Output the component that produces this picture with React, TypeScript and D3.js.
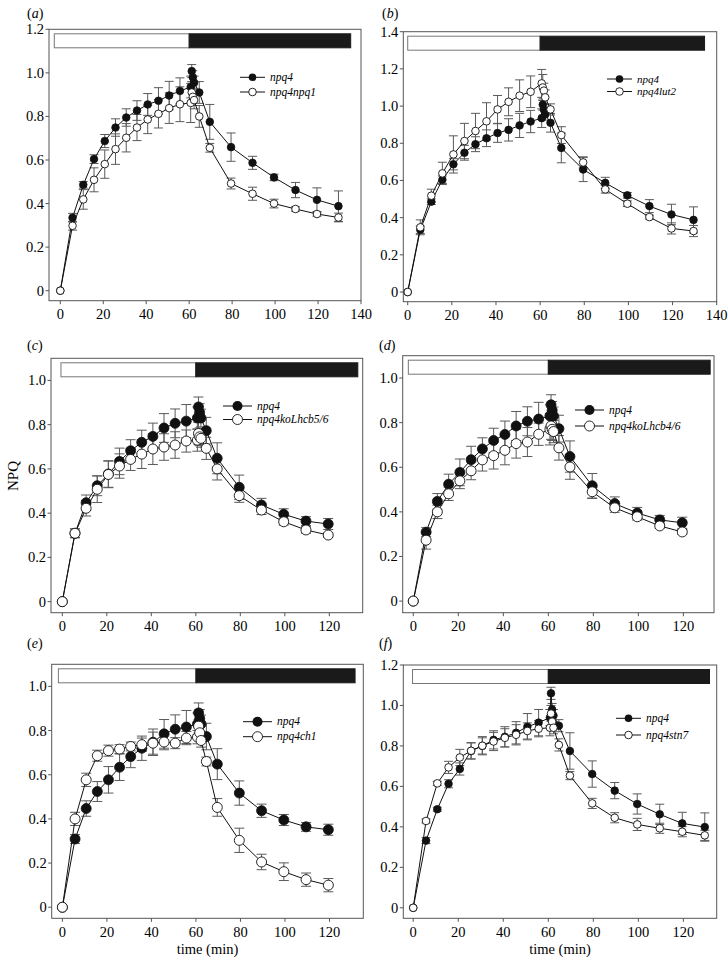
import React from 'react';
import * as d3 from 'd3';

const T130 = [0, 5.7, 10.7, 15.7, 20.7, 25.7, 30.7, 35.7, 40.7, 45.7, 50.7, 55.7, 60.7, 61.2, 61.7, 62.3, 64.7, 69.6, 79.5, 89.5, 99.5, 109.5, 119.5, 129.5];
const T120 = [0, 5.7, 10.7, 15.7, 20.7, 25.7, 30.7, 35.7, 40.7, 45.7, 50.7, 55.7, 60.7, 61.2, 61.7, 62.3, 64.7, 69.6, 79.5, 89.5, 99.5, 109.5, 119.5];

// npq4 used in (a) and (b)
const npq4A = [0, 0.335, 0.486, 0.604, 0.687, 0.749, 0.795, 0.827, 0.855, 0.872, 0.896, 0.917, 0.935, 1.008, 0.98, 0.955, 0.91, 0.775, 0.659, 0.587, 0.52, 0.462, 0.417, 0.388];
const npq4AErr = [0, 0.02, 0.015, 0.02, 0.03, 0.04, 0.04, 0.045, 0.05, 0.06, 0.065, 0.06, 0.05, 0.03, 0.03, 0.03, 0.05, 0.08, 0.065, 0.03, 0.015, 0.035, 0.055, 0.07];
const npq1 = [0, 0.298, 0.419, 0.509, 0.581, 0.65, 0.702, 0.749, 0.786, 0.812, 0.838, 0.856, 0.862, 0.91, 0.89, 0.875, 0.8, 0.656, 0.492, 0.445, 0.4, 0.375, 0.352, 0.336];
const npq1Err = [0, 0.02, 0.045, 0.055, 0.065, 0.07, 0.065, 0.06, 0.065, 0.065, 0.07, 0.08, 0.09, 0.05, 0.04, 0.04, 0.05, 0.02, 0.025, 0.03, 0.02, 0.01, 0.01, 0.02];
const lut2 = [0, 0.348, 0.518, 0.638, 0.74, 0.812, 0.866, 0.918, 0.982, 1.023, 1.056, 1.077, 1.122, 1.1, 1.083, 1.047, 0.982, 0.844, 0.697, 0.552, 0.475, 0.403, 0.342, 0.328];
const lut2Err = [0, 0.04, 0.035, 0.06, 0.1, 0.095, 0.095, 0.1, 0.075, 0.075, 0.085, 0.085, 0.075, 0.07, 0.04, 0.04, 0.03, 0.045, 0.03, 0.02, 0.015, 0.01, 0.03, 0.03];

// npq4 used in (c), (d) and (e)
const npq4C = [0, 0.309, 0.447, 0.524, 0.577, 0.634, 0.682, 0.72, 0.747, 0.785, 0.806, 0.816, 0.83, 0.88, 0.855, 0.83, 0.773, 0.648, 0.517, 0.437, 0.395, 0.364, 0.351];
const npq4CErr = [0, 0.02, 0.035, 0.045, 0.06, 0.06, 0.05, 0.055, 0.06, 0.065, 0.065, 0.075, 0.05, 0.045, 0.04, 0.04, 0.06, 0.07, 0.055, 0.03, 0.025, 0.02, 0.025];
const lhcb56 = [0, 0.309, 0.422, 0.508, 0.575, 0.613, 0.643, 0.667, 0.69, 0.699, 0.708, 0.726, 0.73, 0.76, 0.745, 0.738, 0.693, 0.6, 0.479, 0.414, 0.361, 0.324, 0.301];
const lhcb56Err = [0, 0.02, 0.035, 0.06, 0.06, 0.055, 0.05, 0.065, 0.07, 0.06, 0.06, 0.05, 0.05, 0.05, 0.04, 0.04, 0.05, 0.05, 0.03, 0.02, 0.015, 0.015, 0.01];
const lhcb46 = [0, 0.273, 0.4, 0.481, 0.539, 0.584, 0.633, 0.652, 0.676, 0.706, 0.713, 0.748, 0.77, 0.785, 0.77, 0.76, 0.687, 0.601, 0.49, 0.418, 0.378, 0.337, 0.31];
const lhcb46Err = [0, 0.04, 0.03, 0.03, 0.035, 0.04, 0.05, 0.06, 0.065, 0.065, 0.065, 0.05, 0.07, 0.06, 0.05, 0.05, 0.055, 0.055, 0.03, 0.02, 0.015, 0.01, 0.01];
const ch1 = [0, 0.4, 0.577, 0.686, 0.709, 0.716, 0.728, 0.736, 0.743, 0.748, 0.743, 0.766, 0.77, 0.82, 0.79, 0.755, 0.66, 0.452, 0.303, 0.205, 0.161, 0.125, 0.1];
const ch1Err = [0, 0.03, 0.03, 0.025, 0.025, 0.02, 0.02, 0.03, 0.05, 0.035, 0.025, 0.03, 0.03, 0.03, 0.03, 0.03, 0.02, 0.04, 0.055, 0.035, 0.04, 0.03, 0.03];

// npq4 used in (f)
const npq4F = [0, 0.332, 0.487, 0.613, 0.686, 0.775, 0.8, 0.83, 0.845, 0.865, 0.895, 0.915, 0.94, 1.06, 0.98, 0.95, 0.9, 0.775, 0.661, 0.579, 0.513, 0.462, 0.417, 0.399];
const npq4FErr = [0, 0.015, 0.01, 0.02, 0.03, 0.04, 0.04, 0.045, 0.05, 0.055, 0.065, 0.065, 0.04, 0.03, 0.03, 0.03, 0.03, 0.09, 0.065, 0.04, 0.05, 0.05, 0.055, 0.07];
const stn7 = [0, 0.429, 0.615, 0.694, 0.743, 0.776, 0.801, 0.822, 0.84, 0.855, 0.874, 0.885, 0.89, 0.96, 0.92, 0.89, 0.805, 0.653, 0.516, 0.445, 0.412, 0.393, 0.376, 0.358];
const stn7Err = [0, 0.01, 0.01, 0.03, 0.04, 0.04, 0.045, 0.045, 0.045, 0.05, 0.04, 0.04, 0.04, 0.04, 0.03, 0.03, 0.03, 0.02, 0.025, 0.025, 0.03, 0.025, 0.025, 0.025];

const xTicks140 = [0, 20, 40, 60, 80, 100, 120, 140];
const xTicks120 = [0, 20, 40, 60, 80, 100, 120];
const yTicks10 = [0, 0.2, 0.4, 0.6, 0.8, 1.0];
const yTicks12 = [0, 0.2, 0.4, 0.6, 0.8, 1.0, 1.2];
const yTicks14 = [0, 0.2, 0.4, 0.6, 0.8, 1.0, 1.2, 1.4];

const FONT = '"Liberation Serif", "DejaVu Serif", serif';
const AXIS = '#555';

const panels = [
  { id: 'a', lab: [27, 18], frame: [49, 361, 29.3, 300.7], xd: [-5.26, 140], yd: [-0.046, 1.2], xt: xTicks140, yt: yTicks12,
    t: T130, f: npq4A, fe: npq4AErr, o: npq1, oe: npq1Err, name: 'npq4npq1', leg: [240, 77.3, 14.7], r: 3.8, fs: 11.5, bar: [-2.8, 135.2] },
  { id: 'b', lab: [382, 18], frame: [403.3, 716.7, 31.7, 301.7], xd: [-2, 140], yd: [-0.052, 1.4], xt: xTicks140, yt: yTicks14,
    t: T130, f: npq4A, fe: npq4AErr, o: lut2, oe: lut2Err, name: 'npq4lut2', leg: [607, 79, 12.5], r: 3.8, fs: 11, bar: [0, 134.5] },
  { id: 'c', lab: [27, 350], frame: [51, 362.7, 358.3, 612.7], xd: [-5.08, 135], yd: [-0.05, 1.1], xt: xTicks120, yt: yTicks10,
    t: T120, f: npq4C, fe: npq4CErr, o: lhcb56, oe: lhcb56Err, name: 'npq4koLhcb5/6', leg: [223, 406, 13.5], r: 5, fs: 11.5, bar: [-0.6, 132.8] },
  { id: 'd', lab: [379, 350], frame: [402.7, 714, 355.7, 612.7], xd: [-4.7, 133.6], yd: [-0.052, 1.1], xt: xTicks120, yt: yTicks10,
    t: T120, f: npq4C, fe: npq4CErr, o: lhcb46, oe: lhcb46Err, name: 'npq4koLhcb4/6', leg: [575, 410, 16], r: 5, fs: 11.5, bar: [-2.2, 131.9] },
  { id: 'e', lab: [27, 648], frame: [51.7, 363.3, 664.3, 918.3], xd: [-4.8, 135.2], yd: [-0.05, 1.1], xt: xTicks120, yt: yTicks10,
    t: T120, f: npq4C, fe: npq4CErr, o: ch1, oe: ch1Err, name: 'npq4ch1', leg: [243, 721.7, 15], r: 5, fs: 11.5, bar: [-1.8, 131.5] },
  { id: 'f', lab: [379, 648], frame: [403.3, 716.7, 665, 918.3], xd: [-4.4, 134.8], yd: [-0.052, 1.2], xt: xTicks120, yt: yTicks12,
    t: T130, f: npq4F, fe: npq4FErr, o: stn7, oe: stn7Err, name: 'npq4stn7', leg: [616, 718.3, 16.7], r: 3.8, fs: 11.5, bar: [-0.3, 131.6] },
];

const LIGHT_END = 60;

function Panel({ p }: { p: any }) {
  const [l, r, t, b] = p.frame;
  const x = d3.scaleLinear().domain(p.xd).range([l, r]);
  const y = d3.scaleLinear().domain(p.yd).range([b, t]);
  const line = d3.line<number>().x((_, i) => x(p.t[i])).y((d) => y(d));
  const cap = p.r > 4 ? 5 : 4.5;

  const errBars = (vals: number[], errs: number[], key: string) =>
    vals.map((v, i) => {
      const e = errs[i];
      if (!e) return null;
      const cx = x(p.t[i]);
      return (
        <g key={key + i} stroke="#5a5a5a" strokeWidth={1}>
          <line x1={cx} x2={cx} y1={y(v - e)} y2={y(v + e)} />
          <line x1={cx - cap} x2={cx + cap} y1={y(v - e)} y2={y(v - e)} />
          <line x1={cx - cap} x2={cx + cap} y1={y(v + e)} y2={y(v + e)} />
        </g>
      );
    });

  const [lx, ly, dy] = p.leg;
  const lw = p.r > 4 ? 29 : 25;

  return (
    <g>
      <text x={p.lab[0]} y={p.lab[1]} fontSize={14} fontFamily={FONT}>
        (<tspan fontStyle="italic">{p.id}</tspan>)
      </text>
      <rect x={l} y={t} width={r - l} height={b - t} fill="none" stroke={AXIS} strokeWidth={1} />
      {p.xt.map((v: number) => (
        <g key={'x' + v}>
          <line x1={x(v)} x2={x(v)} y1={b} y2={b + 3.5} stroke={AXIS} />
          <text x={x(v)} y={b + 18.5} textAnchor="middle" fontSize={14.5} fontFamily={FONT}>{v}</text>
        </g>
      ))}
      {p.yt.map((v: number) => (
        <g key={'y' + v}>
          <line x1={l - 3.5} x2={l} y1={y(v)} y2={y(v)} stroke={AXIS} />
          <text x={l - 5} y={y(v) + 5} textAnchor="end" fontSize={14.5} fontFamily={FONT}>
            {v === 0 ? '0' : d3.format('.1f')(v)}
          </text>
        </g>
      ))}
      {/* light / dark bar */}
      <rect x={x(p.bar[0])} y={t + 4.5} width={x(LIGHT_END) - x(p.bar[0])} height={14} fill="#fff" stroke="#777" strokeWidth={1} />
      <rect x={x(LIGHT_END)} y={t + 4.5} width={x(p.bar[1]) - x(LIGHT_END)} height={14} fill="#1a1a1a" stroke="#1a1a1a" strokeWidth={1} />

      {errBars(p.f, p.fe, 'ef')}
      {errBars(p.o, p.oe, 'eo')}
      <path d={line(p.f) as string} fill="none" stroke="#111" strokeWidth={1} />
      <path d={line(p.o) as string} fill="none" stroke="#111" strokeWidth={1} />
      {p.f.map((v: number, i: number) => (
        <circle key={'f' + i} cx={x(p.t[i])} cy={y(v)} r={p.r} fill="#111" stroke="#111" strokeWidth={0.8} />
      ))}
      {p.o.map((v: number, i: number) => (
        <circle key={'o' + i} cx={x(p.t[i])} cy={y(v)} r={p.r} fill="#fff" stroke="#111" strokeWidth={0.9} />
      ))}

      {/* legend */}
      <line x1={lx} x2={lx + lw} y1={ly} y2={ly} stroke="#111" />
      <circle cx={lx + lw / 2} cy={ly} r={p.r} fill="#111" />
      <text x={lx + lw + 5} y={ly + 3.5} fontSize={p.fs} fontStyle="italic" fontFamily={FONT}>npq4</text>
      <line x1={lx} x2={lx + lw} y1={ly + dy} y2={ly + dy} stroke="#111" />
      <circle cx={lx + lw / 2} cy={ly + dy} r={p.r} fill="#fff" stroke="#111" strokeWidth={0.9} />
      <text x={lx + lw + 5} y={ly + dy + 3.5} fontSize={p.fs} fontStyle="italic" fontFamily={FONT}>{p.name}</text>
    </g>
  );
}

export default function App() {
  return (
    <svg width={728} height={959} style={{ position: 'absolute', left: 0, top: 0, background: '#fff' }}>
      <rect width={728} height={959} fill="#fff" />
      {panels.map((p) => (
        <Panel key={p.id} p={p} />
      ))}
      <text transform="translate(18,476) rotate(-90)" textAnchor="middle" fontSize={15} fontFamily={FONT}>NPQ</text>
      <text x={207.5} y={954} textAnchor="middle" fontSize={14.5} fontFamily={FONT}>time (min)</text>
      <text x={560} y={954} textAnchor="middle" fontSize={14.5} fontFamily={FONT}>time (min)</text>
    </svg>
  );
}
